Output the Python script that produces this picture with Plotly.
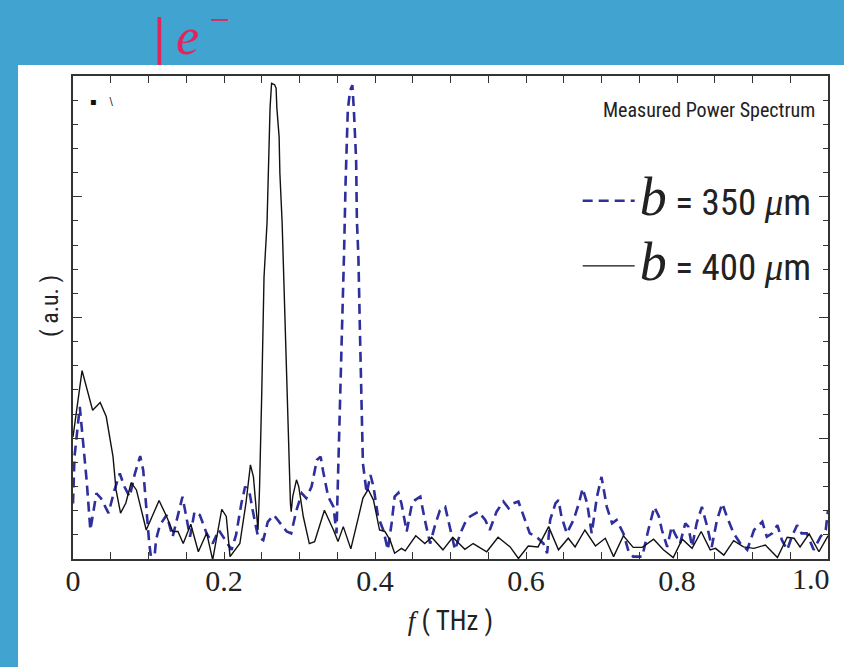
import plotly.graph_objects as go

# ---- data ----
f400 = [0.000, 0.012, 0.026, 0.036, 0.044, 0.053, 0.057, 0.063, 0.070, 0.077, 0.084, 0.097,
        0.114, 0.124, 0.132, 0.139, 0.146, 0.156, 0.166, 0.177, 0.185, 0.197, 0.203, 0.208,
        0.221, 0.229, 0.235, 0.239, 0.245, 0.247, 0.250, 0.253, 0.257, 0.259, 0.260, 0.261,
        0.263, 0.267, 0.269, 0.270, 0.273, 0.274, 0.277, 0.279, 0.281, 0.283, 0.285, 0.288,
        0.289, 0.291, 0.296, 0.299, 0.305, 0.313, 0.320, 0.333, 0.345, 0.351, 0.358, 0.368,
        0.378, 0.384, 0.391, 0.398, 0.406, 0.413, 0.420, 0.426, 0.435, 0.440, 0.454, 0.466,
        0.475, 0.490, 0.503, 0.519, 0.530, 0.548, 0.563, 0.579, 0.590, 0.603, 0.616, 0.630,
        0.643, 0.656, 0.665, 0.678, 0.692, 0.705, 0.716, 0.729, 0.742, 0.754, 0.769, 0.782,
        0.795, 0.807, 0.820, 0.832, 0.844, 0.851, 0.862, 0.875, 0.888, 0.902, 0.917, 0.933,
        0.946, 0.955, 0.963, 0.975, 0.988, 1.000]
p400 = [0.253, 0.390, 0.308, 0.324, 0.295, 0.212, 0.143, 0.095, 0.116, 0.158, 0.143, 0.060,
        0.121, 0.088, 0.057, 0.057, 0.032, 0.072, 0.015, 0.054, -0.002, 0.103, 0.088, 0.005,
        0.032, 0.115, 0.195, 0.170, 0.060, 0.143, 0.343, 0.584, 0.696, 0.799, 0.874, 0.934,
        0.985, 0.982, 0.975, 0.934, 0.874, 0.799, 0.696, 0.584, 0.470, 0.357, 0.246, 0.115,
        0.098, 0.129, 0.164, 0.150, 0.088, 0.032, 0.036, 0.101, 0.060, 0.036, 0.067, 0.021,
        0.086, 0.126, 0.144, 0.122, 0.060, 0.057, 0.039, 0.012, 0.022, 0.017, 0.048, 0.032,
        0.045, 0.019, 0.045, 0.020, 0.032, 0.015, 0.045, 0.025, 0.001, 0.027, 0.025, 0.067,
        0.019, 0.043, 0.025, 0.060, 0.027, 0.043, 0.005, 0.048, 0.024, 0.024, 0.041, 0.019,
        0.003, 0.041, 0.022, 0.057, 0.019, 0.022, 0.008, 0.038, 0.025, 0.022, 0.029, 0.003,
        0.045, 0.043, 0.025, 0.052, 0.015, 0.048]

f350 = [0.000, 0.002, 0.009, 0.013, 0.018, 0.023, 0.026, 0.031, 0.037, 0.047, 0.055, 0.062,
        0.068, 0.075, 0.082, 0.089, 0.093, 0.098, 0.101, 0.106, 0.110, 0.115, 0.124, 0.132,
        0.139, 0.145, 0.150, 0.155, 0.161, 0.168, 0.177, 0.185, 0.193, 0.202, 0.210, 0.216,
        0.223, 0.228, 0.234, 0.238, 0.245, 0.252, 0.258, 0.266, 0.274, 0.283, 0.289, 0.296,
        0.303, 0.309, 0.316, 0.323, 0.328, 0.331, 0.338, 0.345, 0.349, 0.353, 0.356, 0.359,
        0.361, 0.364, 0.367, 0.370, 0.372, 0.375, 0.376, 0.378, 0.380, 0.382, 0.384, 0.389,
        0.394, 0.398, 0.404, 0.411, 0.417, 0.422, 0.426, 0.431, 0.435, 0.442, 0.449, 0.453,
        0.460, 0.466, 0.473, 0.479, 0.486, 0.493, 0.499, 0.506, 0.513, 0.519, 0.526, 0.537,
        0.546, 0.552, 0.561, 0.570, 0.577, 0.583, 0.590, 0.597, 0.605, 0.614, 0.623, 0.628,
        0.632, 0.639, 0.643, 0.647, 0.654, 0.663, 0.670, 0.675, 0.681, 0.687, 0.694, 0.700,
        0.707, 0.714, 0.720, 0.729, 0.736, 0.742, 0.754, 0.762, 0.770, 0.776, 0.780, 0.787,
        0.793, 0.797, 0.804, 0.811, 0.815, 0.820, 0.826, 0.833, 0.840, 0.846, 0.853, 0.860,
        0.866, 0.875, 0.884, 0.893, 0.902, 0.913, 0.919, 0.926, 0.933, 0.939, 0.946, 0.952,
        0.959, 0.965, 0.972, 0.981, 0.990, 0.997, 1.000]
p350 = [0.115, 0.212, 0.315, 0.246, 0.164, 0.060, 0.088, 0.136, 0.126, 0.095, 0.143, 0.177,
        0.150, 0.129, 0.177, 0.213, 0.184, 0.088, 0.032, -0.030, 0.040, 0.070, 0.091, 0.046,
        0.088, 0.129, 0.088, 0.046, 0.098, 0.091, 0.053, 0.032, 0.060, 0.039, 0.019, 0.050,
        0.115, 0.150, 0.136, 0.101, 0.046, 0.039, 0.077, 0.091, 0.074, 0.057, 0.053, 0.101,
        0.136, 0.126, 0.150, 0.205, 0.212, 0.184, 0.129, 0.108, 0.053, 0.267, 0.440, 0.633,
        0.778, 0.930, 0.970, 0.981, 0.930, 0.826, 0.702, 0.626, 0.474, 0.336, 0.198, 0.136,
        0.174, 0.150, 0.088, 0.060, 0.019, 0.074, 0.129, 0.137, 0.115, 0.057, 0.115, 0.122,
        0.129, 0.081, 0.032, 0.067, 0.101, 0.108, 0.067, 0.019, 0.053, 0.074, 0.088, 0.098,
        0.081, 0.060, 0.098, 0.119, 0.105, 0.115, 0.119, 0.088, 0.053, 0.046, 0.032, 0.012,
        0.081, 0.115, 0.122, 0.088, 0.053, 0.081, 0.115, 0.146, 0.115, 0.053, 0.129, 0.170,
        0.108, 0.074, 0.081, 0.053, 0.015, 0.005, 0.005, 0.060, 0.108, 0.088, 0.060, 0.025,
        0.067, 0.053, 0.032, 0.074, 0.067, 0.025, 0.074, 0.108, 0.067, 0.025, 0.081, 0.115,
        0.088, 0.053, 0.032, 0.019, 0.060, 0.077, 0.046, 0.053, 0.070, 0.039, 0.019, 0.046,
        0.070, 0.053, 0.053, 0.019, 0.046, 0.060, 0.101]

x_tickvals = [0, 0.2, 0.4, 0.6, 0.8]
x_ticktext = ["0", "0.2", "0.4", "0.6", "0.8"]
last_tick = 1.0            # label drawn just inside the right frame
last_label = "1.0"
y_major = [0, 0.25, 0.5, 0.75, 1.0]

NARROW = "Liberation Sans Narrow, Arial Narrow, Roboto Condensed, DejaVu Sans Condensed, sans-serif"
SERIF = "Liberation Serif, Times New Roman, serif"

def leg_label(b):
    return ('<span style="font-family:Liberation Serif;font-size:54px"><i>b</i></span>'
            ' = ' + b + ' <span style="font-family:Liberation Serif"><i>\u03bc</i></span>m')

fig = go.Figure()
fig.add_trace(go.Scatter(x=f350, y=p350, mode="lines", name=leg_label("350"),
                         legendgroup="a",
                         line=dict(color="#2e2e9c", width=2.6, dash="10px,6px")))
fig.add_trace(go.Scatter(x=f400, y=p400, mode="lines", name=leg_label("400"),
                         legendgroup="b",
                         line=dict(color="#111111", width=1.4)))

axis_line = "#333333"
fig.update_layout(
    width=844, height=667,
    margin=dict(l=73, r=16, t=76, b=108, autoexpand=False),
    paper_bgcolor="#41a3cf",
    plot_bgcolor="white",
    showlegend=True,
    legend=dict(x=0.985, xanchor="right", y=0.805, yanchor="top",
                bgcolor="rgba(0,0,0,0)", font=dict(family=NARROW, size=37, color="#222222"),
                traceorder="grouped", tracegroupgap=14, itemwidth=52),
    xaxis=dict(range=[0, 1.0], tickvals=x_tickvals, ticktext=x_ticktext,
               ticks="inside", ticklen=7, tickcolor=axis_line, tickwidth=1.2,
               minor=dict(dtick=0.05, ticks="inside", ticklen=7, tickcolor=axis_line, tickwidth=1.2),
               showline=True, linecolor=axis_line, linewidth=1.5, mirror="allticks",
               showgrid=False, zeroline=False, automargin=False,
               ticklabelstandoff=-6,
               tickfont=dict(family=SERIF, size=30, color="#222222"),
               title=dict(text='<span style="font-family:Liberation Serif"><i>f</i></span> ( THz )',
                          font=dict(family=NARROW, size=27, color="#222222"))),
    yaxis=dict(range=[0, 1.0], tickvals=y_major, showticklabels=False,
               ticks="inside", ticklen=9, tickcolor=axis_line, tickwidth=1.2,
               minor=dict(dtick=0.05, ticks="inside", ticklen=5, tickcolor=axis_line, tickwidth=1.2),
               showline=True, linecolor=axis_line, linewidth=1.5, mirror="allticks",
               showgrid=False, zeroline=False, automargin=False),
    shapes=[dict(type="rect", xref="paper", yref="paper", x0=-0.0728, x1=1.05,
                 y0=-0.3, y1=1.0228, fillcolor="white", line=dict(width=0), layer="below")],
    annotations=[
        dict(text=last_label, xref="x", yref="paper", x=last_tick, y=0,
             xanchor="right", yanchor="top", yshift=-1, xshift=4, showarrow=False,
             font=dict(family=SERIF, size=30, color="#222222")),
        dict(text="( a.u. )", xref="paper", yref="paper", x=-0.0305, y=0.524,
             xanchor="center", yanchor="middle", textangle=-90, showarrow=False,
             font=dict(family=NARROW, size=24, color="#222222")),
        dict(text="Measured Power Spectrum", xref="paper", yref="paper", x=0.985, y=0.93,
             xanchor="right", yanchor="middle", showarrow=False,
             font=dict(family=NARROW, size=20, color="#222222")),
        dict(text="<b><i>|</i></b>\u2009<i>e</i>\u2009<sup>\u2212</sup>", xref="paper", yref="paper",
             x=0.104, y=1.09, xanchor="left", yanchor="middle", showarrow=False,
             font=dict(family=SERIF, size=52, color="#e3245c")),
        dict(text="\u25aa&nbsp;&nbsp;&nbsp;&nbsp;\\", xref="paper", yref="paper", x=0.02, y=0.948,
             xanchor="left", yanchor="middle", showarrow=False,
             font=dict(family="DejaVu Sans", size=10, color="#111111")),
    ],
)

fig.write_html("out.html")
